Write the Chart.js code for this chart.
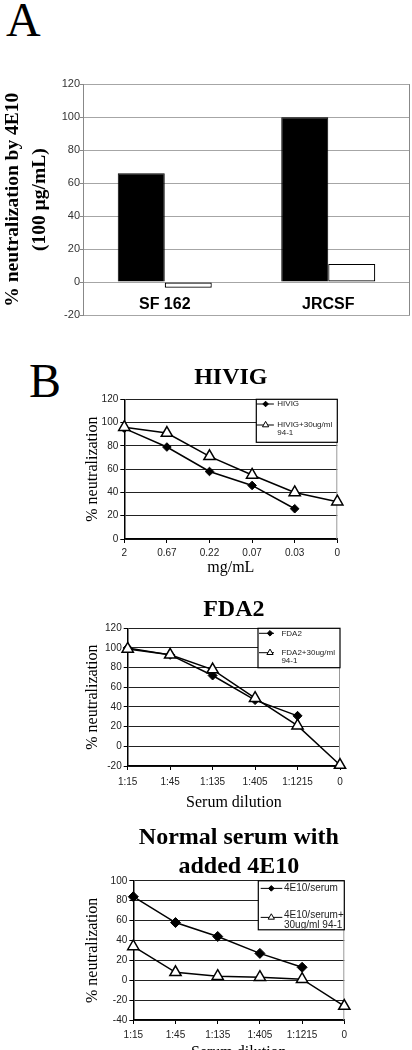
<!DOCTYPE html>
<html>
<head>
<meta charset="utf-8">
<script src="https://cdn.jsdelivr.net/npm/chart.js"></script>
<style>
  html, body { margin: 0; padding: 0; background: #fff; overflow: hidden; }
  #page { position: relative; width: 412px; height: 1050px; overflow: hidden; }
  #page canvas { position: absolute; left: 0; }
  .panel { position: absolute; font: 48px/48px "Liberation Serif", "Times New Roman", serif; color: #000; }
</style>
</head>
<body>
<div id="page">
  <div class="panel" style="left:6px; top:-4px">A</div>
  <canvas id="strainChart" width="412" height="330" style="top:0"></canvas>
  <div class="panel" style="left:29px; top:357px">B</div>
  <canvas id="hivigChart" width="412" height="237" style="top:340px"></canvas>
  <canvas id="fda2Chart" width="412" height="237" style="top:575px"></canvas>
  <canvas id="serumChart" width="412" height="262" style="top:800px"></canvas>
</div>
<script>
const SERIF = '"Liberation Serif", "Times New Roman", serif';
const SANS = '"Liberation Sans", Arial, sans-serif';

// panel A
const strainLabels = ["SF 162", "JRCSF"];
const antibodyOnly = [66, 100];
const antibodyPlus941 = [-3.4, 11];

// panel B
const hivigDoses = ["2", "0.67", "0.22", "0.07", "0.03", "0"];
const hivigAlone = [95, 79, 58, 46, 26, null];
const hivigPlus941 = [96, 91, 71, 55, 40, 32];

const dilutions = ["1:15", "1:45", "1:135", "1:405", "1:1215", "0"];
const fda2Alone = [100, 93, 72, 47, 31, null];
const fda2Plus941 = [99, 93, 78, 49, 21, -19];

const serumWith4E10 = [84, 58, 44, 27, 13, null];
const serumWith4E10Plus941 = [34, 8, 4, 3, 1, -26];

Chart.defaults.font.family = SANS;

// right edge of the plot box
const frame = {
  id: "frame",
  beforeDatasetsDraw(chart, args, opts) {
    const { ctx, chartArea } = chart;
    ctx.save();
    ctx.strokeStyle = opts.color;
    ctx.lineWidth = 1;
    ctx.beginPath();
    ctx.moveTo(chartArea.right - 0.5, chartArea.top);
    ctx.lineTo(chartArea.right - 0.5, chartArea.bottom);
    ctx.stroke();
    ctx.restore();
  },
};

const wrapWords = (ctx, text, maxWidth) => {
  const lines = [];
  let current = "";
  text.split(" ").forEach((word) => {
    const next = current ? current + " " + word : word;
    if (current && ctx.measureText(next).width > maxWidth) {
      lines.push(current);
      current = word;
    } else {
      current = next;
    }
  });
  lines.push(current);
  return lines;
};

// boxed legend in the top right corner of the plot, like the original
const boxLegend = {
  id: "boxLegend",
  afterDatasetsDraw(chart, args, opts) {
    const { ctx, chartArea } = chart;
    const left = chartArea.right - opts.width;
    const top = chartArea.top;
    ctx.save();
    ctx.fillStyle = "#fff";
    ctx.fillRect(left, top, opts.width, opts.height);
    ctx.strokeStyle = "#000";
    ctx.lineWidth = 1.2;
    ctx.strokeRect(left, top, opts.width, opts.height);
    ctx.font = opts.fontSize + "px " + SANS;
    ctx.textBaseline = "middle";
    chart.data.datasets.forEach((ds, i) => {
      const rowY = top + opts.rows[i];
      ctx.strokeStyle = "#000";
      ctx.lineWidth = 1;
      ctx.beginPath();
      ctx.moveTo(left + opts.lineFrom, rowY);
      ctx.lineTo(left + opts.lineTo, rowY);
      ctx.stroke();
      ctx.fillStyle = ds.pointBackgroundColor;
      Chart.helpers.drawPoint(
        ctx,
        { pointStyle: ds.pointStyle, radius: ds.pointStyle === "triangle" ? 3.6 : 2.8, borderWidth: 1, rotation: 0 },
        left + opts.marker,
        rowY
      );
      ctx.fillStyle = "#222";
      const lines = wrapWords(ctx, ds.label, opts.textWidth);
      const shift = lines.length > 1 ? opts.wrapShift : 0;
      lines.forEach((line, j) => {
        ctx.fillText(line, left + opts.textX, rowY + shift + j * opts.lineGap);
      });
    });
    ctx.restore();
  },
};

new Chart(document.getElementById("strainChart"), {
  type: "bar",
  data: {
    labels: strainLabels,
    datasets: [
      {
        label: "4E10",
        data: antibodyOnly,
        backgroundColor: "#000",
        borderColor: "#000",
        borderWidth: 1,
        categoryPercentage: 0.575,
        barPercentage: 1,
      },
      {
        label: "4E10 + 94-1",
        data: antibodyPlus941,
        backgroundColor: "#fff",
        borderColor: "#000",
        borderWidth: 1.2,
        borderSkipped: false,
        categoryPercentage: 0.575,
        barPercentage: 1,
      },
    ],
  },
  options: {
    responsive: false,
    animation: false,
    events: [],
    layout: { padding: { top: 84.3, right: 2, bottom: 15, left: 0 } },
    plugins: {
      legend: { display: false },
      tooltip: { enabled: false },
      frame: { color: "#888" },
    },
    scales: {
      x: {
        position: { y: 0 },
        grid: { display: false, drawTicks: false },
        border: { display: false },
        ticks: { color: "#000", font: { size: 16, weight: "bold" }, padding: 13 },
      },
      y: {
        min: -20,
        max: 120,
        ticks: { stepSize: 20, color: "#333", font: { size: 11 }, padding: 0 },
        grid: { color: "#a6a6a6", tickLength: 3, tickColor: "#888" },
        border: { color: "#888" },
        title: {
          display: true,
          text: ["% neutralization by 4E10", "(100 µg/mL)"],
          color: "#000",
          font: { family: SERIF, size: 19.5, weight: "bold", lineHeight: 1.35 },
          padding: 0,
        },
        afterFit: (scale) => {
          scale.width = 83;
        },
      },
    },
  },
  plugins: [frame],
});

const makeCurveChart = (id, cfg) =>
  new Chart(document.getElementById(id), {
    type: "line",
    data: {
      labels: cfg.labels,
      datasets: [
        {
          label: cfg.names[0],
          data: cfg.alone,
          pointStyle: "rectRot",
          pointRadius: cfg.diamond,
          pointBackgroundColor: "#000",
          pointBorderColor: "#000",
          pointBorderWidth: 1,
          borderColor: "#000",
          borderWidth: 1.5,
          order: 1,
          clip: false,
        },
        {
          label: cfg.names[1],
          data: cfg.plus,
          pointStyle: "triangle",
          pointRadius: 6.5,
          pointBackgroundColor: "#fff",
          pointBorderColor: "#000",
          pointBorderWidth: 1.5,
          borderColor: "#000",
          borderWidth: 1.5,
          order: 0,
          clip: false,
        },
      ],
    },
    options: {
      responsive: false,
      animation: false,
      events: [],
      layout: { padding: { top: 0, right: cfg.padRight, bottom: 0, left: 0 } },
      plugins: {
        legend: { display: false },
        tooltip: { enabled: false },
        title: {
          display: true,
          text: cfg.title,
          fullSize: false,
          color: "#000",
          font: { family: SERIF, size: 24, weight: "bold", lineHeight: cfg.titleLine },
          padding: cfg.titlePad,
        },
        frame: { color: "#999" },
        boxLegend: cfg.legend,
      },
      scales: {
        x: {
          grid: { drawOnChartArea: false, tickLength: 4, tickColor: "#000" },
          border: { color: "#000", width: 1.5 },
          ticks: { color: "#222", font: { size: 10 }, padding: cfg.tickPad, maxRotation: 0, autoSkip: false },
          title: {
            display: true,
            text: cfg.xTitle,
            color: "#000",
            font: { family: SERIF, size: 16 },
            padding: 0,
          },
          afterFit: (scale) => {
            scale.height = cfg.xHeight;
          },
        },
        y: {
          min: cfg.yMin,
          max: cfg.yMax,
          ticks: { stepSize: 20, color: "#222", font: { size: 10 }, padding: 2 },
          grid: { color: "#222", tickLength: 4, tickColor: "#000" },
          border: { color: "#000", width: 1.5 },
          title: {
            display: true,
            text: "% neutralization",
            color: "#000",
            font: { family: SERIF, size: 16 },
            padding: { top: 83.4, bottom: 0 },
          },
          afterFit: (scale) => {
            scale.width = cfg.yWidth;
          },
        },
      },
    },
    plugins: [frame, boxLegend],
  });

makeCurveChart("hivigChart", {
  labels: hivigDoses,
  names: ["HIVIG", "HIVIG+30ug/ml 94-1"],
  alone: hivigAlone,
  plus: hivigPlus941,
  diamond: 4.3,
  title: "HIVIG",
  titleLine: 1.2,
  titlePad: { top: 23.6, bottom: 6.9 },
  xTitle: "mg/mL",
  yMin: 0,
  yMax: 120,
  yWidth: 124.3,
  xHeight: 38,
  tickPad: 4,
  padRight: 74.7,
  legend: { width: 81, height: 43, rows: [4.7, 25.7], lineFrom: 0, lineTo: 17.6, marker: 9.3, textX: 21, textWidth: 60, fontSize: 8, lineGap: 7.5, wrapShift: 0 },
});

makeCurveChart("fda2Chart", {
  labels: dilutions,
  names: ["FDA2", "FDA2+30ug/ml 94-1"],
  alone: fda2Alone,
  plus: fda2Plus941,
  diamond: 4.5,
  title: "FDA2",
  titleLine: 1.2,
  titlePad: { top: 20.6, bottom: 3.9 },
  xTitle: "Serum dilution",
  yMin: -20,
  yMax: 120,
  yWidth: 127.7,
  xHeight: 46,
  tickPad: 6,
  padRight: 72,
  legend: { width: 82, height: 39.4, rows: [5, 24.4], lineFrom: 1, lineTo: 16, marker: 12, textX: 23.4, textWidth: 58, fontSize: 8, lineGap: 8, wrapShift: 0 },
});

makeCurveChart("serumChart", {
  labels: dilutions,
  names: ["4E10/serum", "4E10/serum+ 30ug/ml 94-1"],
  alone: serumWith4E10,
  plus: serumWith4E10Plus941,
  diamond: 5,
  title: ["Normal serum with", "added 4E10"],
  titleLine: 1.183,
  titlePad: { top: 24, bottom: 0 },
  xTitle: "Serum dilution",
  yMin: -40,
  yMax: 100,
  yWidth: 133.3,
  xHeight: 42,
  tickPad: 5,
  padRight: 67.7,
  legend: { width: 86, height: 49, rows: [7.6, 36.6], lineFrom: 2.4, lineTo: 24, marker: 13, textX: 25.7, textWidth: 61, fontSize: 10, lineGap: 10.5, wrapShift: -2.5 },
});
</script>
</body>
</html>
